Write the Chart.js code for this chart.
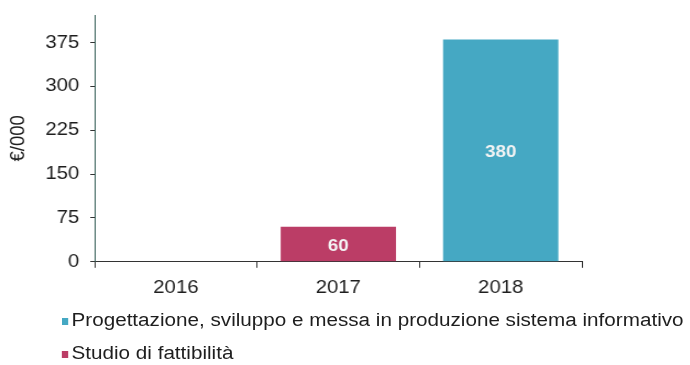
<!DOCTYPE html>
<html>
<head>
<meta charset="utf-8">
<script src="https://cdn.jsdelivr.net/npm/chart.js@4/dist/chart.umd.min.js"></script>
<style>
  html, body { margin: 0; padding: 0; background: #fff; overflow: hidden; }
  /* the chart is laid out narrow and widened as a whole */
  #wrap {
    position: relative;
    width: 627px;
    height: 365px;
    transform: scaleX(1.1);
    transform-origin: 0 0;
  }
  #legend {
    position: absolute;
    left: 56px;
    top: 0;
    font-family: 'Liberation Sans', Arial, sans-serif;
    font-size: 18.8px;
    color: #1e1e1e;
  }
  .item {
    position: absolute;
    left: 0;
    height: 22px;
    line-height: 22px;
    white-space: nowrap;
  }
  .swatch {
    display: inline-block;
    width: 6px;
    height: 7px;
    margin-right: 3px;
    vertical-align: 1px;
  }
</style>
</head>
<body>
<div id="wrap">
  <canvas id="chart" width="627" height="365"></canvas>
  <div id="legend"></div>
</div>
<script>
// categories and values (thousands of euro)
const years = ['2016', '2017', '2018'];
const progettazione = [0, 0, 380];
const studio = [0, 60, 0];
const yTicks = [0, 75, 150, 225, 300, 375];

const seriesNames = [
    'Progettazione, sviluppo e messa in produzione sistema informativo',
    'Studio di fattibilità'
];
const seriesColors = ['#45a8c3', '#bb3d66'];
const FONT = "'Liberation Sans', Arial, sans-serif";

// draws the value in the middle of every non-empty bar
const barValues = {
    id: 'barValues',
    afterDatasetsDraw(chart) {
        const ctx = chart.ctx;
        ctx.save();
        ctx.fillStyle = '#f4f4f4';
        ctx.font = 'bold 17px ' + FONT;
        ctx.textAlign = 'center';
        ctx.textBaseline = 'middle';
        chart.data.datasets.forEach((ds, i) => {
            chart.getDatasetMeta(i).data.forEach((bar, j) => {
                const v = ds.data[j];
                if (!v) return;
                ctx.fillText(String(v), bar.x, (bar.y + bar.base) / 2 + 2);
            });
        });
        ctx.restore();
    }
};

let ctx = document.getElementById('chart').getContext('2d');

let chart = new Chart(ctx, {
    type: 'bar',
    data: {
        labels: years,
        datasets: [
            {
                label: seriesNames[0],
                data: progettazione,
                backgroundColor: seriesColors[0],
                barPercentage: 0.71,
                categoryPercentage: 1
            },
            {
                label: seriesNames[1],
                data: studio,
                backgroundColor: seriesColors[1],
                barPercentage: 0.71,
                categoryPercentage: 1
            }
        ]
    },
    options: {
        responsive: false,
        animation: false,
        devicePixelRatio: 1,
        layout: {
            padding: { left: 0, right: 98, top: 15, bottom: 57 }
        },
        scales: {
            x: {
                stacked: true,
                grid: {
                    offset: true,
                    drawOnChartArea: false,
                    tickLength: 6,
                    color: '#333'
                },
                border: { color: '#333', width: 1 },
                ticks: {
                    color: '#1e1e1e',
                    font: { family: FONT, size: 18.5 },
                    padding: 9
                }
            },
            y: {
                stacked: true,
                min: 0,
                max: 422,
                afterBuildTicks: axis => {
                    axis.ticks = yTicks.map(v => ({ value: v }));
                },
                // the top tick sits below the axis end, so no room is needed for its label
                afterFit: axis => {
                    axis.paddingTop = 0;
                },
                grid: {
                    drawOnChartArea: false,
                    tickLength: 4,
                    color: '#333'
                },
                border: { color: '#2f5a52', width: 1 },
                ticks: {
                    color: '#1e1e1e',
                    font: { family: FONT, size: 18.5 },
                    padding: 10
                },
                title: {
                    display: true,
                    text: '€/000',
                    color: '#1e1e1e',
                    font: { family: FONT, size: 18.5 },
                    padding: { top: 6, bottom: 3 }
                }
            }
        },
        plugins: {
            legend: { display: false },
            tooltip: { enabled: false }
        }
    },
    plugins: [barValues]
});

// legend rows under the chart, one per series
const legendRows = [320, 353];
const legendEl = document.getElementById('legend');
chart.data.datasets.forEach((ds, i) => {
    const item = document.createElement('div');
    item.className = 'item';
    item.style.top = (legendRows[i] - 11) + 'px';
    const sw = document.createElement('span');
    sw.className = 'swatch';
    sw.style.background = ds.backgroundColor;
    item.appendChild(sw);
    item.appendChild(document.createTextNode(ds.label));
    legendEl.appendChild(item);
});
</script>
</body>
</html>
